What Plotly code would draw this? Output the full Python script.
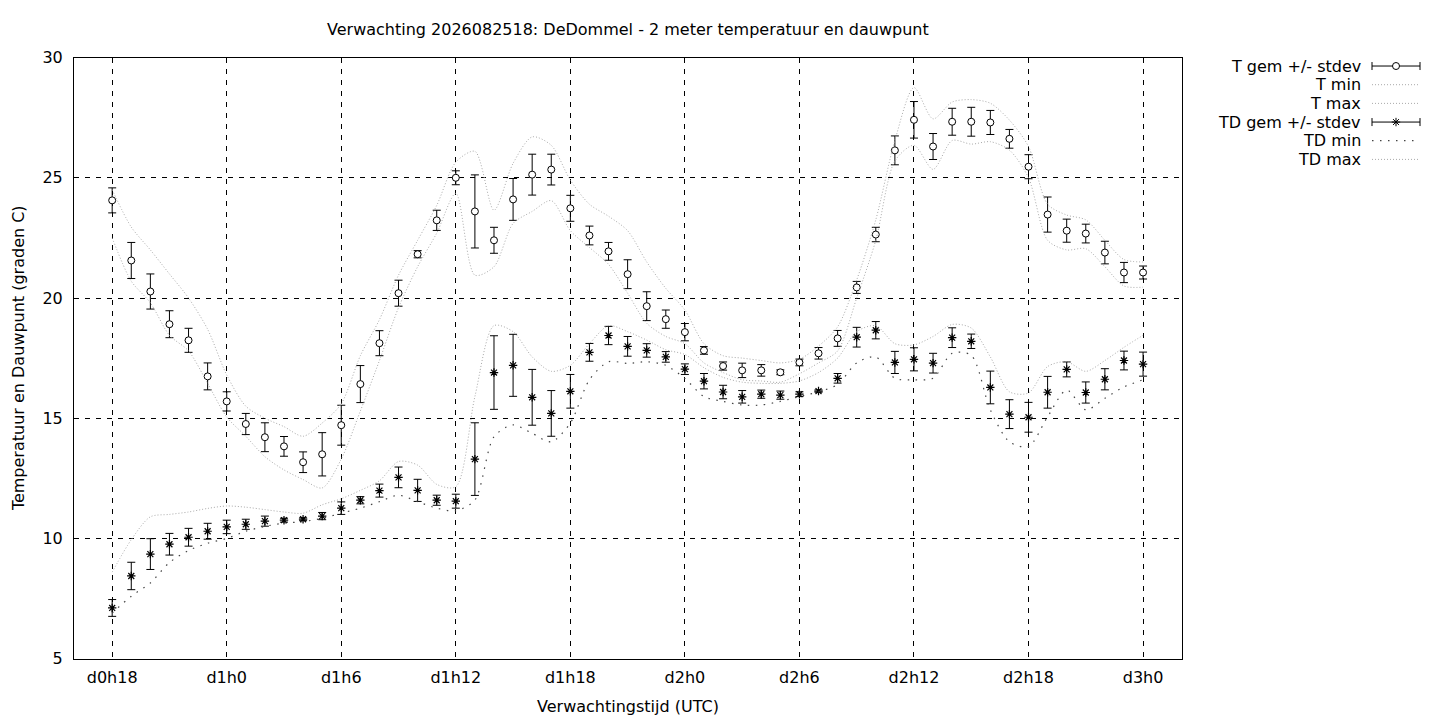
import plotly.graph_objects as go

# uren vanaf d0h0
hours = list(range(18, 73))

tick_vals = [18, 24, 30, 36, 42, 48, 54, 60, 66, 72]
tick_text = ['d0h18', 'd1h0', 'd1h6', 'd1h12', 'd1h18', 'd2h0', 'd2h6', 'd2h12', 'd2h18', 'd3h0']
y_ticks = [5, 10, 15, 20, 25, 30]

t_mean = [24.06, 21.56, 20.27, 18.91, 18.24, 16.74, 15.70, 14.76, 14.21, 13.83,
          13.17, 13.50, 14.71, 16.42, 18.12, 20.20, 21.82, 23.23, 25.00, 23.60,
          22.40, 24.10, 25.13, 25.34, 23.73, 22.60, 21.94, 20.99, 19.66, 19.12,
          18.58, 17.82, 17.17, 16.99, 16.99, 16.91, 17.32, 17.70, 18.32, 20.44,
          22.64, 26.14, 27.41, 26.30, 27.33, 27.33, 27.30, 26.62, 25.46, 23.47,
          22.80, 22.68, 21.89, 21.06, 21.06]
t_sd = [0.52, 0.75, 0.73, 0.56, 0.50, 0.56, 0.40, 0.44, 0.60, 0.41,
        0.43, 0.90, 0.83, 0.77, 0.52, 0.54, 0.15, 0.42, 0.29, 1.52,
        0.54, 0.87, 0.85, 0.64, 0.54, 0.39, 0.37, 0.60, 0.60, 0.38,
        0.36, 0.16, 0.17, 0.30, 0.24, 0.10, 0.14, 0.24, 0.33, 0.25,
        0.30, 0.60, 0.76, 0.54, 0.56, 0.60, 0.50, 0.39, 0.50, 0.73,
        0.48, 0.39, 0.47, 0.42, 0.27]
t_min = [22.5, 20.7, 19.8, 18.45, 17.8, 16.45, 15.05, 14.25, 13.4, 12.85,
         12.45, 12.1, 13.3, 15.3, 17.4, 19.6, 21.3, 22.7, 24.35, 20.95,
         21.3, 23.1, 23.6, 24.05, 22.8, 22.1, 21.4, 20.2, 18.95, 18.4,
         18.1, 17.3, 16.9, 16.6, 16.55, 16.5, 16.85, 17.3, 17.8, 20.0,
         22.4, 25.7, 26.35, 25.35, 26.55, 26.4, 26.5, 26.15, 25.0, 22.4,
         22.0, 22.05, 21.3, 20.5, 20.45]
t_max = [24.5, 22.95, 22.0, 21.0, 20.0, 18.7, 16.8, 15.5, 15.0, 14.65,
         14.25, 14.8, 15.6, 17.6, 19.1, 20.95, 22.4, 23.85, 25.65, 26.1,
         23.65, 25.6, 26.7, 26.35, 24.9, 23.9, 23.4, 22.8, 21.5, 20.4,
         19.5, 18.1, 17.6, 17.5, 17.4, 17.3, 17.45, 18.0, 18.8, 20.75,
         23.25, 26.55, 28.75, 27.45, 28.15, 28.25, 28.1, 27.4, 26.3, 23.9,
         23.45, 23.25, 22.4, 21.6, 21.5]

td_mean = [7.11, 8.44, 9.35, 9.76, 10.05, 10.30, 10.48, 10.59, 10.72, 10.76,
           10.80, 10.93, 11.26, 11.59, 11.99, 12.54, 12.00, 11.59, 11.55, 13.30,
           16.90, 17.20, 15.87, 15.20, 16.12, 17.74, 18.44, 17.99, 17.82, 17.55,
           17.04, 16.54, 16.09, 15.89, 16.00, 15.96, 16.00, 16.13, 16.66, 18.37,
           18.66, 17.32, 17.45, 17.29, 18.35, 18.20, 16.28, 15.17, 15.04, 16.08,
           17.03, 16.07, 16.62, 17.40, 17.25]
td_sd = [0.35, 0.57, 0.64, 0.45, 0.37, 0.33, 0.28, 0.21, 0.21, 0.08,
         0.06, 0.15, 0.26, 0.15, 0.27, 0.43, 0.46, 0.21, 0.29, 1.51,
         1.53, 1.29, 1.16, 0.95, 0.70, 0.37, 0.38, 0.41, 0.28, 0.22,
         0.22, 0.32, 0.28, 0.26, 0.17, 0.17, 0.10, 0.05, 0.20, 0.41,
         0.36, 0.46, 0.48, 0.41, 0.41, 0.30, 0.68, 0.60, 0.62, 0.66,
         0.31, 0.44, 0.44, 0.39, 0.50]
td_min = [6.9, 7.6, 8.15, 9.0, 9.5, 9.8, 10.0, 10.3, 10.5, 10.64,
          10.7, 10.84, 11.05, 11.26, 11.53, 11.8, 11.53, 11.26, 11.15, 11.6,
          14.23, 14.72, 14.37, 14.02, 14.8, 16.6, 17.35, 17.28, 17.35, 17.2,
          16.65, 15.9, 15.7, 15.55, 15.55, 15.7, 15.9, 16.1, 16.4, 17.3,
          17.55, 16.66, 16.6, 16.66, 17.7, 17.62, 15.35, 14.02, 13.82, 15.06,
          16.17, 15.35, 15.83, 16.3, 16.6]
td_max = [8.6, 9.95, 10.9, 11.0, 11.1, 11.25, 11.35, 11.3, 11.2, 11.1,
          11.05, 11.4, 11.65, 12.0, 12.4, 13.2, 13.05, 12.25, 12.15, 15.9,
          18.85, 18.6, 17.55, 16.95, 17.2, 18.1, 18.85, 18.6, 18.25, 17.85,
          17.65, 17.1, 16.7, 16.5, 16.45, 16.45, 16.55, 16.9, 17.5, 18.6,
          18.85, 18.1, 18.05, 18.4, 18.9, 18.75, 17.55, 16.1, 16.05, 17.15,
          17.35, 16.95, 17.4, 17.95, 18.45]

W, H = 1440, 720

# de pagina wordt iets verschoven/geschaald weergegeven, hiermee corrigeren
def px(x):
    return x - 8

def py(y):
    return (y - 16.4) / 0.975

PLOT_L, PLOT_R, PLOT_T, PLOT_B = px(74), px(1182), py(57), py(659)
FONT = dict(family='DejaVu Sans', size=16, color='black')

LIGHT = dict(color='#a9a9a9', width=1, dash='1px,2px')
DARK = dict(color='#444444', width=1.2, dash='1.5px,6.5px')

fig = go.Figure()

fig.add_trace(go.Scatter(
    x=hours, y=t_mean, mode='markers', name='T gem +/- stdev',
    error_y=dict(type='data', array=t_sd, color='black', thickness=1, width=4),
    marker=dict(symbol='circle', size=7, color='white', line=dict(color='black', width=1))))
fig.add_trace(go.Scatter(x=hours, y=t_min, mode='lines', name='T min',
                         line=dict(shape='spline', smoothing=0.8, **LIGHT)))
fig.add_trace(go.Scatter(x=hours, y=t_max, mode='lines', name='T max',
                         line=dict(shape='spline', smoothing=0.8, **LIGHT)))
fig.add_trace(go.Scatter(
    x=hours, y=td_mean, mode='markers', name='TD gem +/- stdev',
    error_y=dict(type='data', array=td_sd, color='black', thickness=1, width=4),
    marker=dict(symbol='asterisk-open', size=7, color='black', line=dict(color='black', width=1.2))))
fig.add_trace(go.Scatter(x=hours, y=td_min, mode='lines', name='TD min',
                         line=dict(shape='spline', smoothing=0.8, **DARK)))
fig.add_trace(go.Scatter(x=hours, y=td_max, mode='lines', name='TD max',
                         line=dict(shape='spline', smoothing=0.8, **LIGHT)))

# legenda in gnuplot-stijl: tekst rechts uitgelijnd, voorbeeld rechts ervan
leg_labels = ['T gem +/- stdev', 'T min', 'T max', 'TD gem +/- stdev', 'TD min', 'TD max']
for i, lab in enumerate(leg_labels):
    yy = py(65.5 + i * 18.7)
    fig.add_annotation(x=px(1363), y=yy, xref='x2', yref='y2', text=lab, showarrow=False,
                       xanchor='right', yanchor='middle', font=FONT)
    if i in (0, 3):
        sym = 'circle' if i == 0 else 'asterisk-open'
        fig.add_trace(go.Scatter(
            x=[px(1396)], y=[yy], xaxis='x2', yaxis='y2', mode='markers', showlegend=False,
            error_x=dict(type='constant', value=24, color='black', thickness=1, width=4),
            marker=dict(symbol=sym, size=7, color='white' if i == 0 else 'black',
                        line=dict(color='black', width=1))))
    else:
        style = DARK if i == 4 else LIGHT
        fig.add_trace(go.Scatter(x=[px(1372), px(1420)], y=[yy, yy], xaxis='x2', yaxis='y2',
                                 mode='lines', showlegend=False, line=style))

axis_common = dict(showline=True, linecolor='black', linewidth=1, mirror=True,
                   showgrid=True, gridcolor='black', gridwidth=1, griddash='5px,6px',
                   ticks='', zeroline=False, tickfont=FONT, fixedrange=True)

fig.update_layout(
    width=W, height=H,
    margin=dict(l=0, r=0, t=0, b=0),
    paper_bgcolor='white', plot_bgcolor='rgba(0,0,0,0)',
    showlegend=False,
    font=FONT,
    xaxis=dict(domain=[PLOT_L / W, PLOT_R / W], range=[16, 74.04],
               tickvals=tick_vals, ticktext=tick_text, ticklabelstandoff=4, **axis_common),
    yaxis=dict(domain=[1 - PLOT_B / H, 1 - PLOT_T / H], range=[5, 30],
               tickvals=y_ticks, ticklabelstandoff=7, **axis_common),
    xaxis2=dict(domain=[0, 1], range=[0, W], visible=False, anchor='y2', fixedrange=True),
    yaxis2=dict(domain=[0, 1], range=[H, 0], visible=False, anchor='x2', fixedrange=True),
)

mid_x = (PLOT_L + PLOT_R) / 2 / W
fig.add_annotation(x=mid_x, y=1 - py(29) / H, xref='paper', yref='paper',
                   text='Verwachting 2026082518: DeDommel - 2 meter temperatuur en dauwpunt',
                   showarrow=False, xanchor='center', yanchor='middle', font=FONT)
fig.add_annotation(x=mid_x, y=1 - py(707) / H, xref='paper', yref='paper',
                   text='Verwachtingstijd (UTC)', showarrow=False,
                   xanchor='center', yanchor='middle', font=FONT)
fig.add_annotation(x=px(18) / W, y=1 - (PLOT_T + PLOT_B) / 2 / H, xref='paper', yref='paper',
                   text='Temperatuur en Dauwpunt (graden C)', showarrow=False, textangle=-90,
                   xanchor='center', yanchor='middle', font=FONT)

fig.write_html('out.html')
